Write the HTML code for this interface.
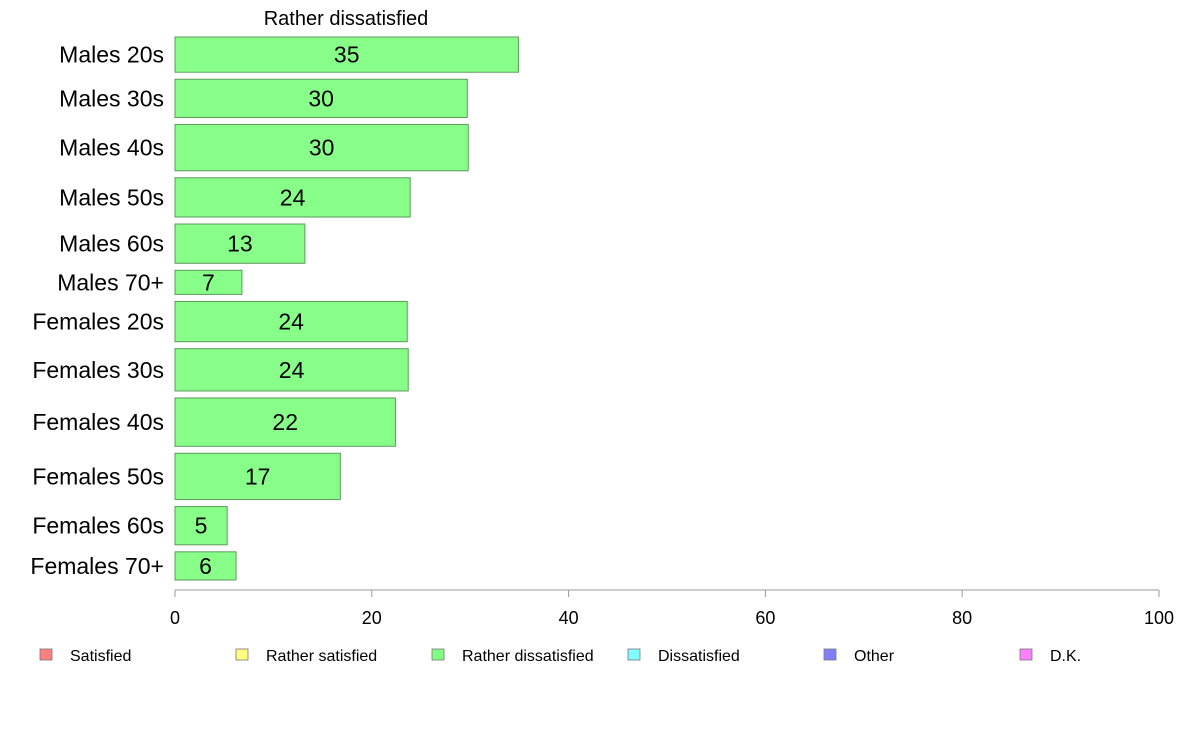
<!DOCTYPE html>
<html><head><meta charset="utf-8"><style>
body{margin:0;background:#fff;}
svg{font-family:"Liberation Sans",Arial,sans-serif;}
</style></head><body>
<svg id="chart" width="1188" height="736" viewBox="0 0 1188 736" xmlns="http://www.w3.org/2000/svg">
<text x="346" y="25" font-size="20" text-anchor="middle">Rather dissatisfied</text>
<g id="bars"></g>
<g id="axis"></g>
<g id="legend"></g>
</svg>
<script>
const categories=["Males 20s","Males 30s","Males 40s","Males 50s","Males 60s","Males 70+","Females 20s","Females 30s","Females 40s","Females 50s","Females 60s","Females 70+"];
const values=[34.9,29.7,29.8,23.9,13.2,6.8,23.6,23.7,22.4,16.8,5.3,6.2];
const labels=["35","30","30","24","13","7","24","24","22","17","5","6"];
const weights=[35,38,46,39,39,24,40,42,48,46,38,28];
const ticks=[0,20,40,60,80,100];
const legendItems=["Satisfied","Rather satisfied","Rather dissatisfied","Dissatisfied","Other","D.K."];
const legendColors=["#ff8080","#ffff80","#80ff80","#80ffff","#8080ff","#ff80ff"];
const NS="http://www.w3.org/2000/svg";
const x0=175,x1=1159,yTop=37,yBot=580,gap=7;
const xs=v=>x0+(x1-x0)*v/100;
const totalW=weights.reduce((a,b)=>a+b,0);
const unit=(yBot-yTop-gap*(weights.length-1))/totalW;
const bars=document.getElementById('bars');
let y=yTop;
function mk(t,a,p){const e=document.createElementNS(NS,t);for(const k in a)e.setAttribute(k,a[k]);p.appendChild(e);return e;}
categories.forEach((c,i)=>{
  const h=weights[i]*unit;
  const r=mk('rect',{x:x0,y:y,width:xs(values[i])-x0,height:h,fill:'#88ff88',stroke:'#5a9a5a','stroke-width':1},bars);
  
  
  const t=mk('text',{x:(x0+xs(values[i]))/2,y:y+h/2+8,'font-size':23,'text-anchor':'middle'},bars);
  t.textContent=labels[i];
  
  
  const l=mk('text',{x:164,y:y+h/2+8,'font-size':23,'text-anchor':'end'},bars);
  l.textContent=c;
  
  
  y+=h+gap;
});
const ax=document.getElementById('axis');
const al=mk('line',{x1:x0,x2:x1,y1:590,y2:590,stroke:'#999','stroke-width':1},ax);


ticks.forEach(v=>{
  const tl=mk('line',{x1:xs(v),x2:xs(v),y1:590,y2:597,stroke:'#999'},ax);
  
  
  const tt=mk('text',{x:xs(v),y:624,'font-size':18,'text-anchor':'middle'},ax);
  tt.textContent=v;
  
  
});
const lg=document.getElementById('legend');
legendItems.forEach((n,i)=>{
  const lx=40+196*i;
  const b=mk('rect',{x:lx,y:649,width:12,height:11,fill:legendColors[i],stroke:'#777','stroke-width':0.8},lg);
  
  
  const t=mk('text',{x:lx+30,y:661,'font-size':16},lg);
  t.textContent=n;
  
  
});
</script>
</body></html>
